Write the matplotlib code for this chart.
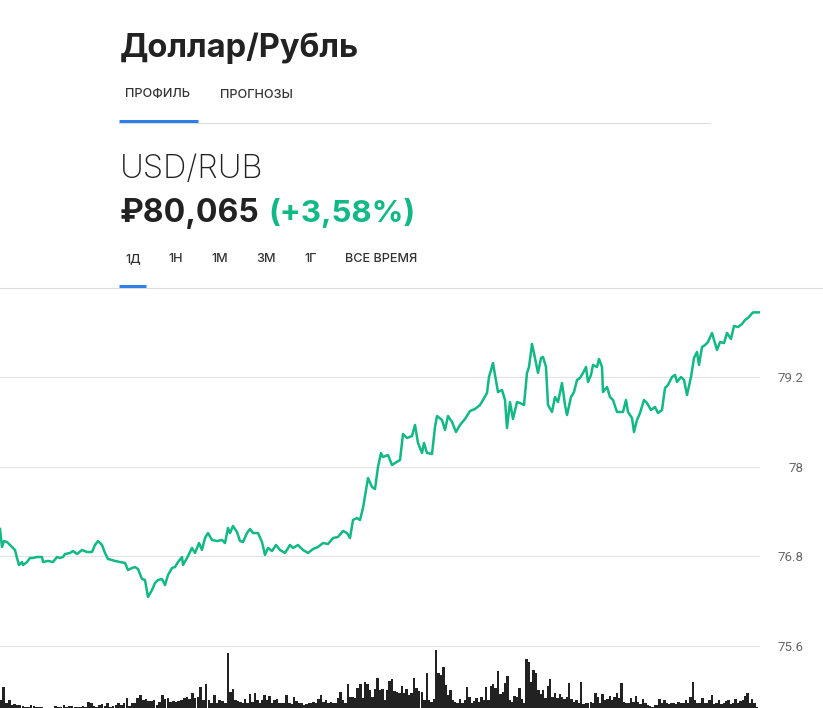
import numpy as np
import matplotlib
matplotlib.use("Agg")
import matplotlib.pyplot as plt
from matplotlib.lines import Line2D

plt.rcParams['font.family'] = ['Inter', 'DejaVu Sans']

# цена USD/RUB за день (шаги времени по оси x)
t = [0, 2, 4, 7, 12, 15, 17, 19, 22, 23, 27, 30, 33, 37, 42, 43, 48, 53, 57, 60,
     63, 65, 70, 73, 77, 82, 87, 92, 95, 98, 102, 105, 108, 112, 115, 120, 125, 128, 132, 135,
     138, 142, 145, 148, 152, 155, 158, 162, 165, 168, 172, 175, 178, 182, 183, 187, 192, 195, 199, 202,
     205, 208, 212, 217, 222, 225, 228, 230, 233, 237, 240, 243, 247, 250, 253, 258, 262, 265, 268, 272,
     276, 280, 285, 290, 293, 298, 303, 308, 313, 318, 323, 328, 333, 338, 343, 347, 350, 353, 357, 360,
     363, 366, 368, 372, 375, 378, 381, 383, 388, 392, 395, 400, 403, 407, 412, 415, 418, 422, 424, 427,
     432, 435, 437, 442, 445, 448, 452, 456, 460, 465, 470, 475, 480, 483, 487, 489, 493, 495, 498, 502,
     505, 507, 510, 513, 517, 520, 524, 527, 529, 532, 535, 538, 541, 543, 546, 548, 552, 555, 558, 562,
     565, 567, 571, 574, 577, 580, 583, 586, 588, 591, 593, 597, 599, 602, 603, 607, 610, 613, 617, 620,
     623, 626, 628, 632, 634, 637, 640, 644, 647, 651, 655, 658, 662, 665, 668, 672, 675, 677, 681, 684,
     687, 691, 694, 697, 699, 702, 705, 708, 712, 715, 717, 720, 724, 727, 731, 734, 738, 742, 745, 748,
     753, 759]
price = [77.166, 76.925, 77.005, 76.992, 76.925, 76.885, 76.778, 76.684, 76.724, 76.684,
         76.724, 76.778, 76.778, 76.791, 76.791, 76.724, 76.738, 76.724, 76.791, 76.778,
         76.791, 76.831, 76.845, 76.871, 76.831, 76.885, 76.858, 76.858, 76.952, 77.005,
         76.952, 76.845, 76.764, 76.751, 76.738, 76.724, 76.711, 76.617, 76.644, 76.657,
         76.630, 76.497, 76.483, 76.256, 76.349, 76.443, 76.483, 76.497, 76.416, 76.550,
         76.644, 76.657, 76.724, 76.791, 76.684, 76.778, 76.912, 76.845, 76.978, 76.885,
         77.045, 77.112, 77.019, 77.005, 77.019, 76.978, 77.179, 77.112, 77.206, 77.126,
         77.005, 76.992, 77.112, 77.166, 77.112, 77.112, 76.992, 76.818, 76.912, 76.871,
         76.952, 76.885, 76.845, 76.952, 76.912, 76.952, 76.885, 76.845, 76.898, 76.925,
         76.978, 76.965, 77.045, 77.059, 77.139, 77.112, 77.045, 77.286, 77.313, 77.286,
         77.447, 77.688, 77.848, 77.728, 77.701, 77.996, 78.183, 78.129, 78.156, 78.022,
         78.049, 78.089, 78.437, 78.384, 78.410, 78.558, 78.317, 78.183, 78.317, 78.183,
         78.170, 78.531, 78.678, 78.625, 78.491, 78.678, 78.598, 78.464, 78.558, 78.638,
         78.745, 78.772, 78.825, 78.892, 78.986, 79.200, 79.387, 79.227, 78.999, 79.026,
         78.892, 78.517, 78.865, 78.638, 78.865, 78.852, 78.825, 79.254, 79.334, 79.642,
         79.454, 79.254, 79.454, 79.468, 79.334, 78.825, 78.732, 78.932, 78.865, 79.120,
         78.825, 78.691, 78.932, 78.999, 79.160, 79.187, 79.254, 79.334, 79.133, 79.227,
         79.361, 79.334, 79.441, 79.334, 78.999, 79.066, 78.932, 78.892, 78.732, 78.732,
         78.732, 78.892, 78.732, 78.651, 78.464, 78.625, 78.718, 78.892, 78.852, 78.758,
         78.799, 78.718, 78.758, 79.053, 79.093, 79.200, 79.227, 79.133, 79.200, 79.160,
         78.959, 79.200, 79.454, 79.535, 79.361, 79.601, 79.628, 79.668, 79.789, 79.655,
         79.561, 79.668, 79.655, 79.789, 79.709, 79.883, 79.869, 79.909, 79.963, 79.990,
         80.065, 80.065]

# объём торгов (условные единицы), первая и вторая половина дня
vol_a = [8, 21, 5, 8, 3, 4, 3, 3, 2, 1, 1, 3, 2, 1, 1, 1, 0, 0, 0, 0,
         2, 1, 1, 3, 1, 2, 2, 1, 1, 1, 2, 1, 6, 5, 2, 1, 3, 4, 2, 5,
         1, 2, 3, 5, 3, 5, 10, 2, 5, 5, 10, 13, 8, 9, 7, 7, 8, 3, 6, 13,
         9, 10, 6, 7, 6, 7, 8, 10, 11, 9, 15, 10, 11, 21, 8, 24, 8, 5, 13, 5,
         8, 7, 5, 55, 16, 19, 8, 7, 6, 5, 9, 5, 14, 6, 15, 8, 5, 8, 13, 8,
         12, 5, 8, 9, 5, 5, 5, 13, 5, 4, 11, 7, 5, 5, 3, 4, 5, 5, 6, 5,
         9, 13, 6, 8, 5, 6, 5, 5, 10, 16, 8, 5, 24, 11, 11, 10, 20, 24, 10, 26,
         24, 18, 11, 19, 30, 18, 19, 8, 18, 27, 29, 17, 16, 15, 22, 15, 19, 13, 15, 30,
         20, 17]
vol_b = [16, 8, 35, 8, 6, 9, 58, 35, 33, 41, 23, 13, 18, 8, 6, 5, 9, 5, 8, 21,
         11, 5, 7, 10, 6, 11, 8, 21, 8, 22, 24, 20, 37, 14, 16, 25, 32, 8, 6, 12,
         11, 20, 9, 5, 49, 46, 26, 38, 35, 18, 14, 18, 10, 22, 29, 11, 15, 10, 14, 11,
         9, 11, 25, 9, 6, 8, 5, 26, 4, 5, 5, 6, 5, 15, 11, 5, 14, 8, 9, 12,
         8, 11, 15, 10, 25, 6, 5, 5, 10, 6, 12, 6, 4, 9, 5, 3, 2, 1, 3, 3,
         9, 5, 8, 5, 4, 5, 5, 4, 6, 5, 5, 8, 5, 11, 26, 8, 5, 5, 10, 5,
         5, 8, 13, 4, 5, 8, 4, 5, 7, 8, 4, 5, 9, 5, 7, 8, 12, 15, 5, 9,
         5, 1]

grid_vals = [75.6, 76.8, 78, 79.2]
grid_labels = ['75.6', '76.8', '78', '79.2']
periods = ['1Д', '1Н', '1М', '3М', '1Г', 'ВСЕ ВРЕМЯ']

W, H = 823, 708
GREEN = '#12b886'
BLUE = '#2f7fe8'


def fx(x):
    return x / W


def fy(y):
    return 1 - y / H


fig = plt.figure(figsize=(W / 100, H / 100), dpi=100)
fig.patch.set_facecolor('white')

# шапка
fig.text(fx(120), fy(57), 'Доллар/Рубль', fontsize=23.5, fontweight='bold', color='#222')
fig.text(fx(125), fy(97.5), 'ПРОФИЛЬ', fontsize=9.1, fontweight='medium', color='#333')
fig.text(fx(220), fy(97.5), 'ПРОГНОЗЫ', fontsize=9.1, fontweight='medium', color='#333')
fig.add_artist(Line2D([fx(119), fx(710)], [fy(122.5), fy(122.5)], color='#dddddd', lw=0.8))
fig.add_artist(Line2D([fx(119), fx(198)], [fy(121), fy(121)], color=BLUE, lw=2.2, solid_capstyle='butt'))

fig.text(fx(120), fy(177.5), 'USD/RUB', fontsize=23.5, fontweight='light', color='#222')
fig.text(fx(120), fy(222), '₽80,065', fontsize=23, fontweight='bold', color='#222')
fig.text(fx(268), fy(222), '(+3,58%)', fontsize=22.5, fontweight='bold', color=GREEN)

for lbl, x in zip(periods, [125, 168, 211, 256, 304, 345]):
    fig.text(fx(x), fy(262), lbl, fontsize=9.1, fontweight='medium', color='#333')
fig.add_artist(Line2D([0, 1], [fy(287.5), fy(287.5)], color='#dddddd', lw=0.8))
fig.add_artist(Line2D([fx(119), fx(146)], [fy(286), fy(286)], color=BLUE, lw=2.2, solid_capstyle='butt'))

# график цены
k = 1.2 / 89.67
ylo = 75.6 - (H - 646) * k
yhi = 79.2 + (377 - 289) * k
ax = fig.add_axes([0, 0, fx(760), fy(289)])
ax.set_xlim(0, 760)
ax.set_ylim(ylo, yhi)
ax.plot(t, price, color=GREEN, lw=1.8, zorder=3, solid_joinstyle='round')
ax.set_yticks(grid_vals)
ax.set_yticklabels(grid_labels, family=['Roboto', 'DejaVu Sans'])
ax.yaxis.tick_right()
ax.tick_params(axis='y', length=0, pad=31.5, labelsize=9.5, labelcolor='#666')
for lab in ax.get_yticklabels():
    lab.set_ha('right')
ax.set_xticks([])
ax.grid(axis='y', color='#e3e3e3', lw=0.8)
for s in ax.spines.values():
    s.set_visible(False)
ax.set_facecolor('none')

# объёмы: позиции столбиков по опорным точкам (начало, пик, конец)
vax = fig.add_axes([0, 0, fx(760), fy(289)], sharex=ax)
vax.set_ylim(0, H - 289)
ia = np.arange(len(vol_a))
xa = np.interp(ia, [0, 83, len(vol_a) - 1], [1, 228, 419])
xb = np.linspace(422, 757, len(vol_b))
vax.bar(xa, vol_a, width=2.6, color='#222222', lw=0)
vax.bar(xb, vol_b, width=(xb[1] - xb[0]), color='#222222', lw=0)
vax.axis('off')

fig.savefig('out.png', dpi=100, facecolor='white')
